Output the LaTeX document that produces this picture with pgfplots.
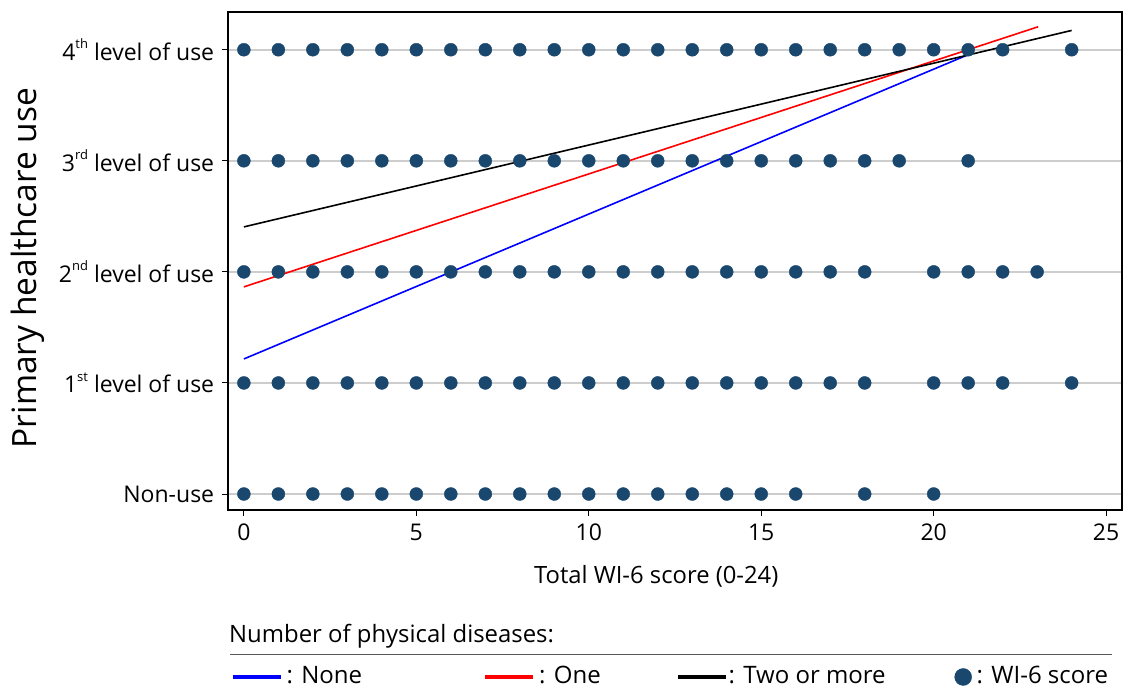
\documentclass[border=0pt]{standalone}
\usepackage{pgfplots}
\pgfplotsset{compat=1.18}
\usepackage{fontspec}
\setmainfont{Open Sans}
\definecolor{dotblue}{RGB}{26,71,110}
\definecolor{gridgray}{RGB}{205,205,205}
\newcommand{\ordsup}[1]{\raisebox{0.5em}{\fontsize{13bp}{15bp}\selectfont #1}}
\begin{document}
\fontsize{23bp}{27bp}\selectfont
\begin{tikzpicture}
\path (0bp,0bp) rectangle (1130bp,690bp);
\begin{axis}[
  at={(228bp,180bp)}, anchor=south west,
  scale only axis, width=894bp, height=498bp,
  xmin=-0.46, xmax=25.46, ymin=-0.144, ymax=4.34,
  xtick={0,5,10,15,20,25},
  ytick={0,1,2,3,4},
  yticklabels={Non-use,1\ordsup{st} level of use,2\ordsup{nd} level of use,3\ordsup{rd} level of use,4\ordsup{th} level of use},
  /pgf/number format/assume math mode=true,
  tick align=outside, major tick length=6bp,
  xtick pos=bottom, ytick pos=left,
  ymajorgrids, grid style={gridgray, line width=2bp},
  axis line style={line width=1.3bp},
  tick style={line width=1bp, black},
  xlabel={Total WI-6 score (0-24)},
  ylabel={Primary healthcare use},
  xlabel style={at={(axis description cs:0.479,-0.1325)}, anchor=center, font=\fontsize{23.8bp}{27bp}\selectfont},
  ylabel style={at={(axis description cs:-0.2237,0.486)}, anchor=center, font=\fontsize{33.5bp}{38bp}\selectfont},
  legend columns=4,
  legend style={at={(axis description cs:0.0,-0.3353)}, anchor=west, draw=none, fill=none,
     nodes={inner sep=0pt}, column sep=0pt, font=\fontsize{24bp}{28bp}\selectfont},
  legend cell align=left,
]
\addplot[only marks, mark=*, mark size=6.5bp, color=dotblue, forget plot] coordinates {
 (0,4)(1,4)(2,4)(3,4)(4,4)(5,4)(6,4)(7,4)(8,4)(9,4)(10,4)(11,4)(12,4)(13,4)(14,4)(15,4)(16,4)(17,4)(18,4)(19,4)(20,4)(21,4)(22,4)(24,4)
 (0,3)(1,3)(2,3)(3,3)(4,3)(5,3)(6,3)(7,3)(8,3)(9,3)(10,3)(11,3)(12,3)(13,3)(14,3)(15,3)(16,3)(17,3)(18,3)(19,3)(21,3)
 (0,2)(1,2)(2,2)(3,2)(4,2)(5,2)(6,2)(7,2)(8,2)(9,2)(10,2)(11,2)(12,2)(13,2)(14,2)(15,2)(16,2)(17,2)(18,2)(20,2)(21,2)(22,2)(23,2)
 (0,1)(1,1)(2,1)(3,1)(4,1)(5,1)(6,1)(7,1)(8,1)(9,1)(10,1)(11,1)(12,1)(13,1)(14,1)(15,1)(16,1)(17,1)(18,1)(20,1)(21,1)(22,1)(24,1)
 (0,0)(1,0)(2,0)(3,0)(4,0)(5,0)(6,0)(7,0)(8,0)(9,0)(10,0)(11,0)(12,0)(13,0)(14,0)(15,0)(16,0)(18,0)(20,0)
};
\addplot[blue, line width=1.6bp, legend image code/.code={\draw[blue,line width=3.5bp] (0bp,0bp) -- (48bp,0bp);}] coordinates {(0,1.216)(21.11,3.97)};
\addlegendentry{\makebox[201bp][l]{\hspace{4bp}: None}}
\addplot[red, line width=1.6bp, legend image code/.code={\draw[red,line width=3.5bp] (0bp,0bp) -- (48bp,0bp);}] coordinates {(0,1.865)(23.03,4.207)};
\addlegendentry{\makebox[141bp][l]{\hspace{4bp}: One}}
\addplot[black, line width=1.6bp, legend image code/.code={\draw[black,line width=3.5bp] (0bp,0bp) -- (48bp,0bp);}] coordinates {(0,2.405)(24,4.174)};
\addlegendentry{\makebox[227bp][l]{\hspace{1bp}: Two or more}}
\addlegendimage{only marks, mark=*, mark size=8.5bp, color=dotblue}
\addlegendentry{\hspace{5bp}: WI-6 score}
\end{axis}
\node[anchor=west, inner sep=0pt, font=\fontsize{23.9bp}{28bp}\selectfont] at (229bp,54bp) {Number of physical diseases:};
\draw[line width=1bp, black!65] (230bp,35bp) -- (1112bp,35bp);
\end{tikzpicture}
\end{document}
